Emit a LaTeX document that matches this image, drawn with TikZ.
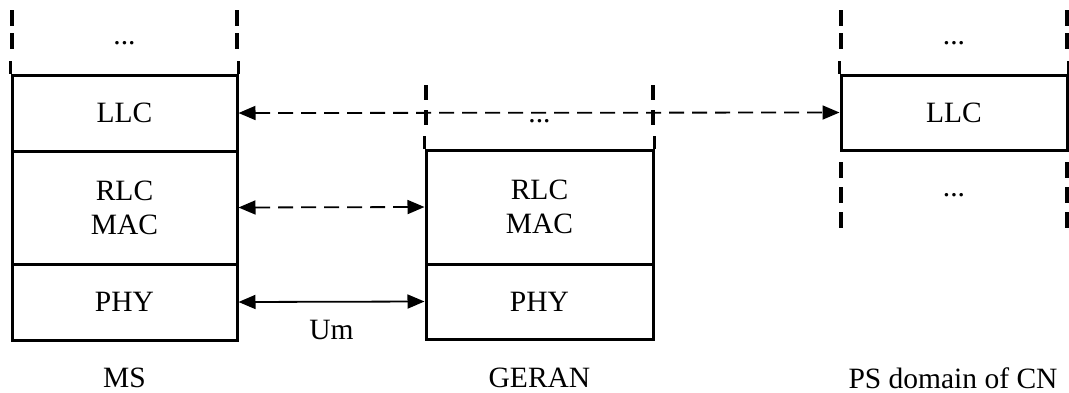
\documentclass[tikz,border=0pt]{standalone}
\usepackage{fontspec}
\setmainfont{Liberation Serif}
\usetikzlibrary{arrows.meta}
\begin{document}
\begin{tikzpicture}[x=1pt,y=-1pt,
  every node/.style={font=\fontsize{29.5}{34}\selectfont},
  layer/.style={draw, line width=3pt, rectangle, inner sep=0pt, align=center},
  lbl/.style={inner sep=0pt},
  edge/.style={line width=3.2pt},
  dashedge/.style={line width=3.2pt, dash pattern=on 16pt off 7pt},
  conn/.style={line width=1.8pt, {Triangle[length=17pt,width=14pt]}-{Triangle[length=17pt,width=14pt]}},
  dconn/.style={conn, dash pattern=on 15pt off 8pt}]
\useasboundingbox (0,0) rectangle (1069,392);
% MS stack
\node[layer, minimum width=225pt, minimum height=76pt] (msllc) at (124.5,113) {LLC};
\node[layer, minimum width=225pt, minimum height=113pt] (msrlc) at (124.5,207.5) {RLC\\MAC};
\node[layer, minimum width=225pt, minimum height=76pt] (msphy) at (124.5,302) {PHY};
\node[lbl] (msdots) at (124.5,43) {...};
\node[lbl] (ms) at (124.5,378) {MS};
\draw[edge] (msllc.north west) -- ++(0,-13);
\draw[edge] (msllc.north east) -- ++(0,-13);
\draw[dashedge] (12,10) -- (12,50);
\draw[dashedge] (237,10) -- (237,50);
% GERAN stack
\node[layer, minimum width=227pt, minimum height=114pt] (grlc) at (539.5,207) {RLC\\MAC};
\node[layer, minimum width=227pt, minimum height=75pt] (gphy) at (539.5,301.5) {PHY};
\node[lbl] (gdots) at (539.5,121) {...};
\node[lbl] (geran) at (539.5,378) {GERAN};
\draw[edge] (grlc.north west) -- ++(0,-13);
\draw[edge] (grlc.north east) -- ++(0,-13);
\draw[line width=3.2pt, dash pattern=on 15pt off 10pt] (426,85) -- (426,125);
\draw[line width=3.2pt, dash pattern=on 15pt off 10pt] (653,85) -- (653,125);
% PS domain stack
\node[layer, minimum width=226pt, minimum height=75pt] (psllc) at (954,112.5) {LLC};
\node[lbl] (psdots) at (954,43) {...};
\node[lbl] (psdots2) at (954,195) {...};
\node[lbl] (ps) at (953,378) {PS domain of CN};
\draw[edge] (psllc.north west) -- ++(0,-13);
\draw[edge] (psllc.north east) -- ++(0,-13);
\draw[dashedge] (841,10) -- (841,50);
\draw[dashedge] (1067,10) -- (1067,50);
\draw[line width=3.2pt, dash pattern=on 16pt off 9pt] (841,162) -- (841,228);
\draw[line width=3.2pt, dash pattern=on 16pt off 9pt] (1067,162) -- (1067,228);
% connectors
\draw[dconn] (msllc.east) -- (psllc.west);
\draw[dconn] (msrlc.east) -- (grlc.west);
\draw[conn] (msphy.east) -- node[lbl, pos=0.5, yshift=-28pt] (um) {Um} (gphy.west);
\end{tikzpicture}
\end{document}
